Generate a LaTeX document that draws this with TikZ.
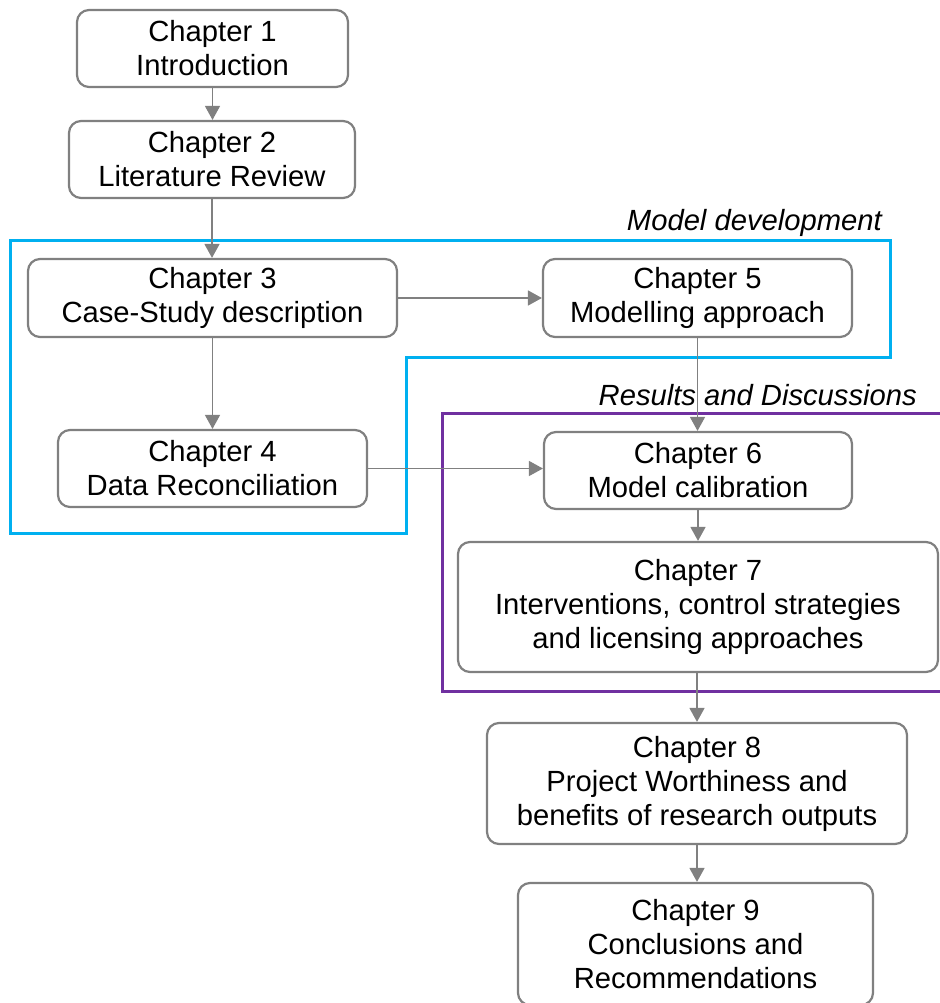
\documentclass[tikz,border=0pt]{standalone}
\usepackage{fontspec}
\setmainfont{Liberation Sans}
\usetikzlibrary{arrows.meta}
\definecolor{linegray}{HTML}{808080}
\definecolor{frameblue}{HTML}{00B0F0}
\definecolor{framepurple}{HTML}{7030A0}
\begin{document}
\begin{tikzpicture}[x=1pt,y=-1pt,
  chapter/.style={draw=linegray, line width=2.2pt, rounded corners=12pt, fill=white,
    align=center, inner sep=0pt, font=\fontsize{29.2}{34}\selectfont},
  flow/.style={draw=linegray, line width=1.5pt, -{Triangle[length=14pt,width=15pt]}},
  frameline/.style={line width=3pt},
  tag/.style={font=\fontsize{29.2}{34}\selectfont\itshape, inner sep=0pt, anchor=base east}]
\useasboundingbox (0,0) rectangle (939,1003);

% group frames
\draw[frameline, frameblue] (10,240) -- (890,240) -- (890,357) -- (406,357) -- (406,533) -- (10,533) -- cycle;
\draw[frameline, framepurple] (945,413) -- (442,413) -- (442,691) -- (945,691);

% group labels
\node[tag] (tmodel) at (882,230) {Model development};
\node[tag] (tresults) at (917,405) {Results and Discussions};

% chapters
\node[chapter, minimum width=271pt, minimum height=77pt] (c1) at (212.5,48.5) {Chapter 1\\Introduction};
\node[chapter, minimum width=286pt, minimum height=77pt] (c2) at (212,159.5) {Chapter 2\\Literature Review};
\node[chapter, minimum width=369pt, minimum height=78pt] (c3) at (212.5,298) {Chapter 3\\Case-Study description};
\node[chapter, minimum width=309pt, minimum height=77pt] (c4) at (212.5,468.5) {Chapter 4\\Data Reconciliation};
\node[chapter, minimum width=309pt, minimum height=78pt] (c5) at (697.5,298) {Chapter 5\\Modelling approach};
\node[chapter, minimum width=308pt, minimum height=77pt] (c6) at (698,470.5) {Chapter 6\\Model calibration};
\node[chapter, minimum width=480pt, minimum height=130pt] (c7) at (698,607) {Chapter 7\\Interventions, control strategies\\and licensing approaches};
\node[chapter, minimum width=420pt, minimum height=121pt] (c8) at (697,783.5) {Chapter 8\\Project Worthiness and\\benefits of research outputs};
\node[chapter, minimum width=355pt, minimum height=122pt] (c9) at (695.5,944) {Chapter 9\\Conclusions and\\Recommendations};

% connectors
\draw[flow] (c1.south) -- (c1.south |- c2.north);
\draw[flow] (c2.south) -- (c2.south |- c3.north);
\draw[flow] (c3.south) -- (c3.south |- c4.north);
\draw[flow] (c3.east) -- (c3.east -| c5.west);
\draw[flow] (c4.east) -- (c4.east -| c6.west);
\draw[flow] (c5.south) -- (c5.south |- c6.north);
\draw[flow] (c6.south) -- (c6.south |- c7.north);
\draw[flow] (c7.south -| c8.north) -- (c8.north);
\draw[flow] (c8.south) -- (c8.south |- c9.north);
\end{tikzpicture}
\end{document}
